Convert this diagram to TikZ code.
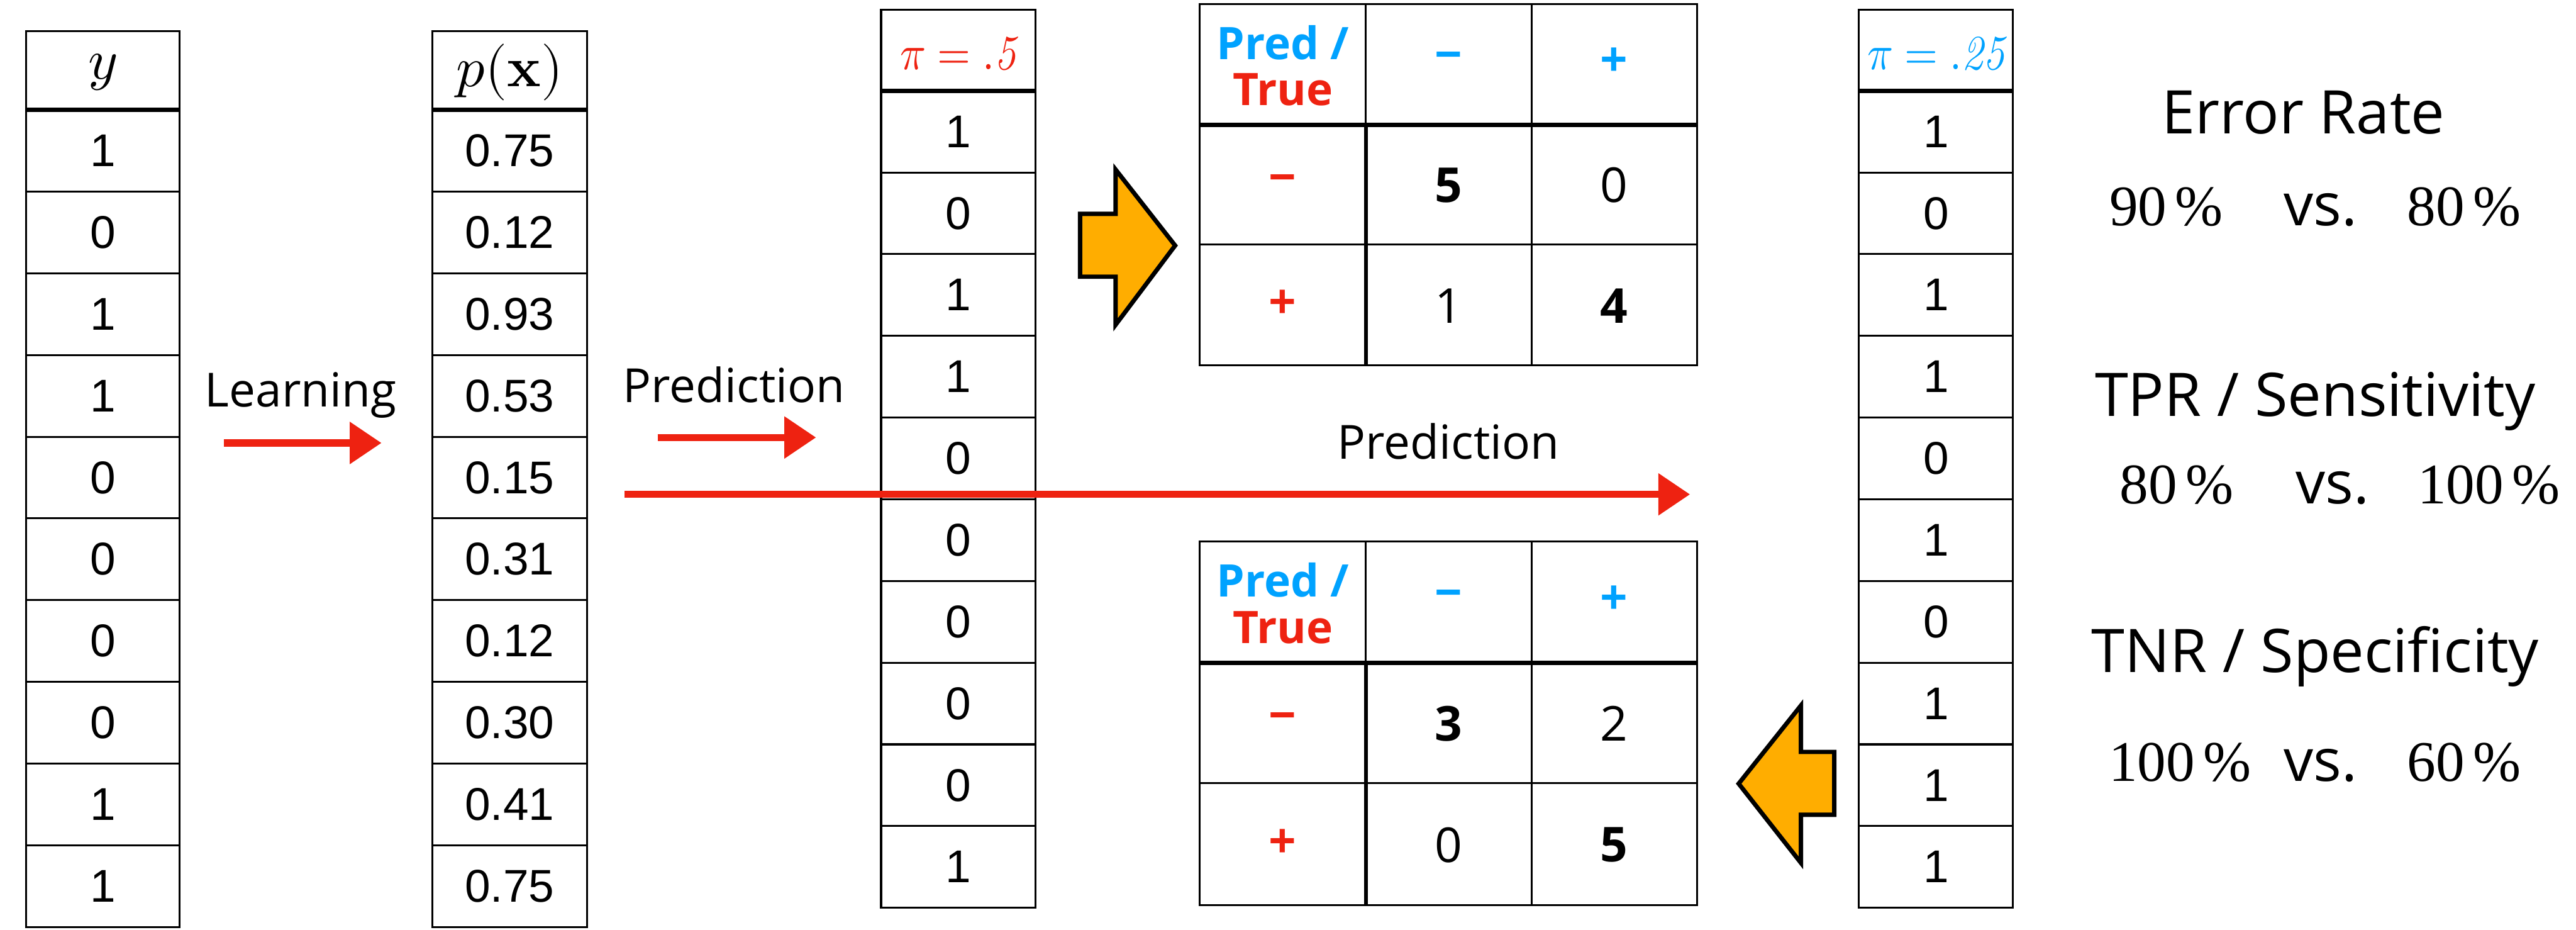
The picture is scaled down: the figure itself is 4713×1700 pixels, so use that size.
\documentclass[tikz,border=0pt]{standalone}
\usepackage{fontspec}
\usepackage{unicode-math}
\usetikzlibrary{arrows.meta}
\newfontfamily\colfont{Liberation Sans}
\newfontfamily\osans{Open Sans}
\newfontfamily\tserif{Liberation Serif}
\definecolor{myred}{HTML}{EE2211}
\definecolor{myblue}{HTML}{00A2FF}
\definecolor{myorange}{HTML}{FFAD00}
\begin{document}
\begin{tikzpicture}[x=1pt,y=-1pt,
  thinrule/.style={line width=3.5pt,line cap=rect},
  thickrule/.style={line width=8pt},
  coltext/.style={inner sep=0pt,font=\colfont\fontsize{84}{100}\selectfont},
  hdrtext/.style={inner sep=0pt,font=\fontsize{104}{110}\selectfont},
  pitext/.style={inner sep=0pt,anchor=base,font=\fontsize{90}{100}\selectfont},
  tabtext/.style={inner sep=0pt,font=\osans\fontsize{88}{100}\selectfont},
  tabbold/.style={tabtext,font=\osans\bfseries\fontsize{88}{100}\selectfont},
  predtrue/.style={inner sep=0pt,align=center,font=\osans\bfseries\fontsize{82}{85}\selectfont},
  lbltext/.style={inner sep=0pt,anchor=base,font=\osans\fontsize{86}{100}\selectfont},
  metric/.style={inner sep=0pt,anchor=base,font=\osans\fontsize{110}{120}\selectfont},
  pct/.style={inner sep=0pt,anchor=base west,font=\tserif\fontsize{105}{120}\selectfont},
  vstext/.style={inner sep=0pt,anchor=base west,font=\osans\fontsize{108}{120}\selectfont},
  redarrow/.style={draw=myred,line width=13pt,-{Triangle[length=58pt,width=74pt]}},
  blockarrow/.style={draw=black,line width=8pt,fill=myorange,line join=miter,miter limit=10}
]
\useasboundingbox (0,0) rectangle (4713,1700);

% ---------- column y ----------
\draw[thinrule] (48,57) rectangle (329,1695);
\foreach \i in {1,...,9} \draw[thinrule] (48,{201+\i*149.4}) -- (329,{201+\i*149.4});
\draw[thickrule] (48,201) -- (329,201);
\node[hdrtext] (yhead) at (188.5,132) {$y$};
\foreach \v [count=\i] in {1,0,1,1,0,0,0,0,1,1}
  \node[coltext] (y\i) at (188.5,{201+(\i-0.5)*149.4}) {\v};

% ---------- column p(x) ----------
\draw[thinrule] (791,57) rectangle (1074,1695);
\foreach \i in {1,...,9} \draw[thinrule] (791,{201+\i*149.4}) -- (1074,{201+\i*149.4});
\draw[thickrule] (791,201) -- (1074,201);
\node[hdrtext] (phead) at (932.5,132) {$p(\mathbf{x})$};
\foreach \v [count=\i] in {0.75,0.12,0.93,0.53,0.15,0.31,0.12,0.30,0.41,0.75}
  \node[coltext] (p\i) at (932.5,{201+(\i-0.5)*149.4}) {\v};

% ---------- column pi = .5 ----------
\draw[thinrule] (1612,18) rectangle (1894,1660);
\foreach \i in {1,...,9} \draw[thinrule] (1612,{166+\i*149.4}) -- (1894,{166+\i*149.4});
\draw[thickrule] (1612,166) -- (1894,166);
\node[pitext,text=myred] (pahead) at (1753,127) {\scalebox{0.87}[1]{$\pi = \mathit{.5}$}};
\foreach \v [count=\i] in {1,0,1,1,0,0,0,0,0,1}
  \node[coltext] (a\i) at (1753,{166+(\i-0.5)*149.4}) {\v};

% ---------- column pi = .25 ----------
\draw[thinrule] (3401,18) rectangle (3683,1660);
\foreach \i in {1,...,9} \draw[thinrule] (3401,{166+\i*149.4}) -- (3683,{166+\i*149.4});
\draw[thickrule] (3401,166) -- (3683,166);
\node[pitext,text=myblue] (pbhead) at (3542,127) {\scalebox{0.87}[1]{$\pi = \mathit{.25}$}};
\foreach \v [count=\i] in {1,0,1,1,0,1,0,1,1,1}
  \node[coltext] (b\i) at (3542,{166+(\i-0.5)*149.4}) {\v};

% ---------- confusion table (top) ----------
\draw[thinrule] (2195,7) rectangle (3105,668);
\draw[thinrule] (2802,7) -- (2802,668);
\draw[thinrule] (2499,7) -- (2499,228);
\draw[thinrule] (2195,447) -- (3105,447);
\draw[thickrule] (2195,228) -- (3105,228);
\draw[line width=7pt] (2499,228) -- (2499,668);
\node[predtrue] (ta) at (2347,120) {\textcolor{myblue}{Pred /}\\\textcolor{myred}{True}};
\node[tabbold,text=myblue] (tam) at (2650,113) {−};
\node[tabbold,text=myblue] (tap) at (2953,113) {+};
\node[tabbold,text=myred] (tbm) at (2347,337) {−};
\node[tabbold,text=myred] (tbp) at (2347,557) {+};
\node[tabbold] (t11) at (2650,339) {5};
\node[tabtext] (t12) at (2953,339) {0};
\node[tabtext] (t21) at (2650,559) {1};
\node[tabbold] (t22) at (2953,559) {4};

% ---------- confusion table (bottom) ----------
\draw[thinrule] (2195,990) rectangle (3105,1655);
\draw[thinrule] (2802,990) -- (2802,1655);
\draw[thinrule] (2499,990) -- (2499,1212);
\draw[thinrule] (2195,1432) -- (3105,1432);
\draw[thickrule] (2195,1212) -- (3105,1212);
\draw[line width=7pt] (2499,1212) -- (2499,1655);
\node[predtrue] (ua) at (2347,1103) {\textcolor{myblue}{Pred /}\\\textcolor{myred}{True}};
\node[tabbold,text=myblue] (uam) at (2650,1097) {−};
\node[tabbold,text=myblue] (uap) at (2953,1097) {+};
\node[tabbold,text=myred] (ubm) at (2347,1321) {−};
\node[tabbold,text=myred] (ubp) at (2347,1543) {+};
\node[tabbold] (u11) at (2650,1323) {3};
\node[tabtext] (u12) at (2953,1323) {2};
\node[tabtext] (u21) at (2650,1545) {0};
\node[tabbold] (u22) at (2953,1545) {5};

% ---------- labels and red arrows ----------
\node[lbltext] (learn) at (550,744) {Learning};
\coordinate (learnS) at (410,810);
\coordinate (learnE) at (698,810);
\draw[redarrow] (learnS) -- (learnE);

\node[lbltext] (predA) at (1343,736) {Prediction};
\coordinate (predAS) at (1203,800);
\coordinate (predAE) at (1493,800);
\draw[redarrow] (predAS) -- (predAE);

\node[lbltext] (predB) at (2650,839) {Prediction};
\coordinate (predBS) at (1143,904);
\coordinate (predBE) at (3092,904);
\draw[redarrow] (predBS) -- (predBE);

% ---------- orange block arrows ----------
\draw[blockarrow] (1976,391) -- (2041,391) -- (2041,310) -- (2150,449) -- (2041,594) -- (2041,506) -- (1976,506) -- cycle;
\draw[blockarrow] (3356,1375) -- (3295,1375) -- (3295,1290) -- (3181,1433) -- (3295,1578) -- (3295,1490) -- (3356,1490) -- cycle;

% ---------- metrics ----------
\node[metric] (err) at (4214,245) {Error Rate};
\node[pct] (err1) at (3859,413) {90\kern0.15em\%};
\node[vstext] (errvs) at (4178,413) {vs.};
\node[pct] (err2) at (4404,413) {80\kern0.15em\%};

\node[metric] (tpr) at (4236,761) {TPR / Sensitivity};
\node[pct] (tpr1) at (3878,921) {80\kern0.15em\%};
\node[vstext] (tprvs) at (4200,921) {vs.};
\node[pct] (tpr2) at (4423,921) {100\kern0.15em\%};

\node[metric] (tnr) at (4236,1229) {TNR / Specificity};
\node[pct] (tnr1) at (3858,1429) {100\kern0.15em\%};
\node[vstext] (tnrvs) at (4178,1429) {vs.};
\node[pct] (tnr2) at (4404,1429) {60\kern0.15em\%};
\end{tikzpicture}
\end{document}
